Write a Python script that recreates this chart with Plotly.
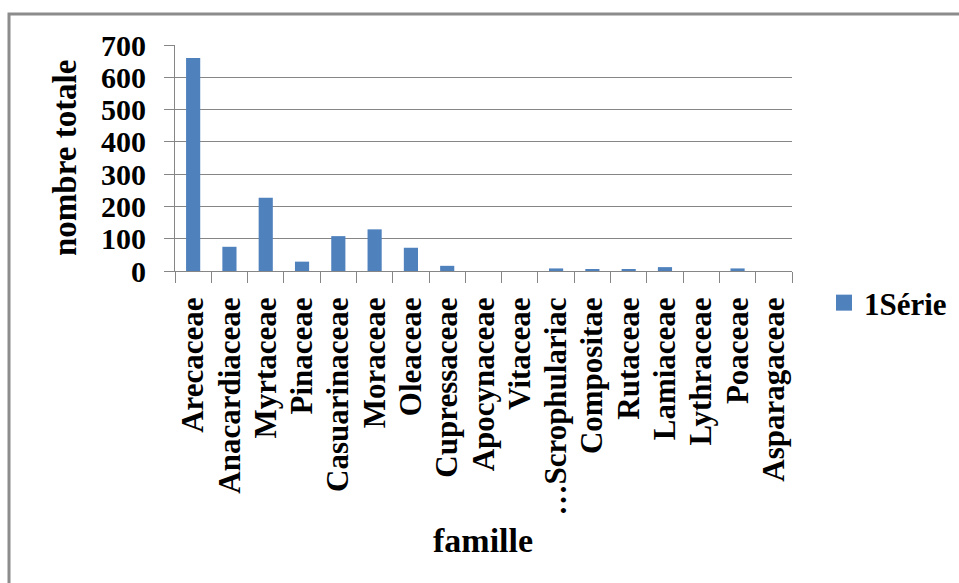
import plotly.graph_objects as go

familles = ["Arecaceae", "Anacardiaceae", "Myrtaceae", "Pinaceae", "Casuarinaceae",
            "Moraceae", "Oleaceae", "Cupressaceae", "Apocynaceae", "Vitaceae",
            "…Scrophulariac", "Compositae", "Rutaceae", "Lamiaceae", "Lythraceae",
            "Poaceae", "Asparagaceae"]
nombres = [660, 75, 227, 29, 108, 129, 72, 16, 0, 0, 8, 5, 5, 12, 0, 8, 0]
y_ticks = [0, 100, 200, 300, 400, 500, 600, 700]
serie = "1Série"

W, H = 959, 583
L, R, T, B = 175, 792, 45, 271  # plot area in pixels
FONT = "Liberation Serif, Times New Roman, serif"
GRID = "#868686"
BLUE = "#4F81BD"

def px_x(p):
    return (p - L) / (R - L)

def px_y(p):
    return (B - p) / (B - T)

fig = go.Figure()
fig.add_trace(go.Bar(
    x=familles, y=nombres, name=serie, showlegend=False,
    marker=dict(color=BLUE, line=dict(width=0)),
))
# legend entry with a larger square swatch
fig.add_trace(go.Scatter(
    x=[None], y=[None], mode="markers", name=serie,
    marker=dict(symbol="square", size=16, color=BLUE),
))

fig.update_layout(
    width=W, height=H,
    margin=dict(l=L, r=W - R, t=T, b=H - B, autoexpand=False),
    paper_bgcolor="white", plot_bgcolor="white",
    bargap=0.61,
    showlegend=True,
    font=dict(family=FONT, size=28, color="black"),
    legend=dict(xref="container", yref="container",
                x=824 / W, y=1 - 303 / H, xanchor="left", yanchor="middle",
                font=dict(family=FONT, size=31, color="black", weight="bold"),
                bgcolor="rgba(0,0,0,0)", itemwidth=30),
    xaxis=dict(
        type="category", tickmode="array", tickvals=familles, ticktext=familles,
        tickangle=-90, ticks="outside", ticklen=11,
        tickcolor=GRID, tickwidth=1, tickson="boundaries",
        showline=True, linecolor=GRID, linewidth=1,
        showgrid=False, ticklabelstandoff=13,
        tickfont=dict(family=FONT, size=31, color="black", weight="bold"),
    ),
    yaxis=dict(
        range=[0, 700], tickvals=y_ticks, ticks="outside", ticklen=10,
        tickcolor=GRID, tickwidth=1,
        showline=True, linecolor=GRID, linewidth=1,
        showgrid=True, gridcolor=GRID, gridwidth=1, zeroline=False,
        ticklabelstandoff=12,
        tickfont=dict(family=FONT, size=30, color="black", weight="bold"),
    ),
    annotations=[
        dict(text="nombre totale", xref="paper", yref="paper",
             x=px_x(65), y=px_y(158), textangle=-90, showarrow=False,
             xanchor="center", yanchor="middle",
             font=dict(family=FONT, size=33, color="black", weight="bold")),
        dict(text="famille", xref="paper", yref="paper",
             x=px_x(483), y=px_y(540), showarrow=False,
             xanchor="center", yanchor="middle",
             font=dict(family=FONT, size=34, color="black", weight="bold")),
    ],
    shapes=[
        dict(type="rect", xref="paper", yref="paper",
             x0=px_x(9), y0=px_y(14), x1=px_x(W + 20), y1=px_y(H + 20),
             line=dict(color="#8c8c8c", width=3), fillcolor="rgba(0,0,0,0)",
             layer="below"),
    ],
)

fig.write_html("out.html")
